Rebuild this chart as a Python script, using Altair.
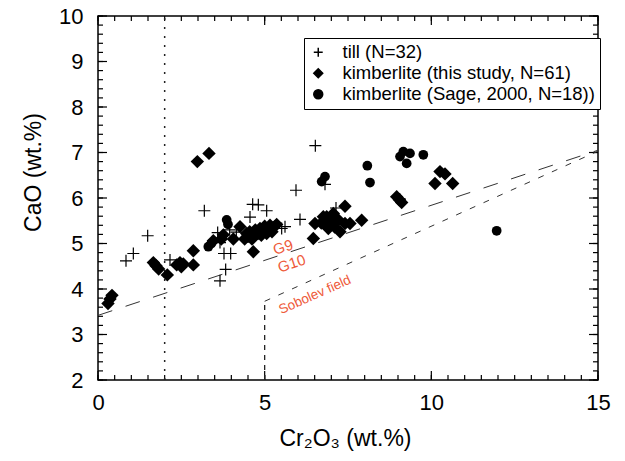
import altair as alt
import pandas as pd

FONT = "Liberation Sans"
LABEL_RED = "#ee5a3a"

series_names = ["till (N=32)", "kimberlite (this study, N=61)", "kimberlite (Sage, 2000, N=18))"]

# till (crosses)
till_x = [0.84, 1.06, 1.49, 2.16, 3.19, 3.59, 3.66, 3.78, 3.98, 3.83, 3.66, 4.56, 4.64, 4.81, 5.06, 5.61,
          5.51, 6.06, 5.94, 6.52, 7.14, 6.81, 4.85, 5.10, 4.50, 6.95, 7.20, 3.95, 4.15, 5.30, 6.75, 9.05]
till_y = [4.62, 4.78, 5.17, 4.64, 5.72, 5.24, 5.02, 4.78, 4.78, 4.43, 4.18, 5.58, 5.86, 5.85, 5.72, 5.37,
          5.33, 5.53, 6.17, 7.15, 5.78, 6.30, 5.25, 5.32, 5.15, 5.50, 5.45, 5.30, 5.25, 5.38, 5.50, 5.98]

# kimberlite, this study (diamonds)
kimb_x = [0.30, 0.36, 0.42, 1.66, 1.74, 1.82, 2.08, 2.36, 2.46, 2.56, 2.50, 2.86, 2.86, 2.98, 3.33,
          3.46, 3.76, 3.70, 4.06, 4.26, 4.66,
          4.40, 4.50, 4.55, 4.65, 4.72, 4.80, 4.86, 4.95, 5.00, 5.10, 5.16, 5.26, 5.36, 4.46, 4.62, 4.90,
          5.06, 5.22,
          6.46, 6.51, 6.76, 6.86, 6.91, 7.06, 7.21, 7.26, 7.41, 7.56, 7.41, 7.91, 6.70, 7.00, 7.10,
          8.96, 9.04, 9.11, 10.26, 10.41, 10.11, 10.64]
kimb_y = [3.68, 3.78, 3.86, 4.58, 4.51, 4.44, 4.31, 4.53, 4.58, 4.55, 4.49, 4.84, 4.53, 6.80, 6.98,
          5.06, 5.19, 5.10, 5.10, 5.37, 4.82,
          5.10, 5.16, 5.26, 5.20, 5.30, 5.22, 5.33, 5.27, 5.38, 5.30, 5.40, 5.35, 5.42, 5.22, 5.10, 5.18,
          5.22, 5.26,
          5.11, 5.44, 5.59, 5.59, 5.33, 5.66, 5.52, 5.26, 5.44, 5.44, 5.82, 5.51, 5.45, 5.45, 5.36,
          6.03, 5.96, 5.90, 6.58, 6.53, 6.32, 6.32]

# kimberlite, Sage 2000 (circles)
sage_x = [3.31, 3.40, 3.86, 3.90, 6.81, 6.71, 8.08, 8.16, 9.16, 9.06, 9.36, 9.26, 9.76, 11.96,
          4.70, 5.05, 7.05, 4.58]
sage_y = [4.93, 5.00, 5.52, 5.42, 6.47, 6.36, 6.71, 6.34, 7.02, 6.91, 6.98, 6.76, 6.95, 5.28,
          5.25, 5.30, 5.50, 5.18]

# reference lines
g9_x, g9_y = [0, 15], [3.42, 7.05]
sob_x, sob_y = [5, 15], [3.73, 7.03]
sobv_x, sobv_y = [5, 5], [2, 3.73]
dot_x, dot_y = [2, 2], [2, 10]

# field labels
g_text, g_x, g_y = ["G9", "G10"], [5.55, 5.81], [4.92, 4.56]
s_text, s_x, s_y = ["Sobolev field"], [6.51], [3.87]

# axis ticks (inward, on all four sides)
x_major = [0, 5, 10, 15]
x_minor = [i * 0.5 for i in range(31)]
y_major = [2, 3, 4, 5, 6, 7, 8, 9, 10]
y_minor = [round(2 + 0.2 * i, 1) for i in range(41)]
x_lo, x_hi = 0, 15
y_lo, y_hi = 2, 10
# tick lengths in data units (major, minor)
xt_len = (0.27, 0.15)
yt_len = (0.2, 0.11)

xs = alt.Scale(domain=[x_lo, x_hi], nice=False, zero=False)
ys = alt.Scale(domain=[y_lo, y_hi], nice=False, zero=False)

xaxis = alt.Axis(orient="bottom", values=x_major, ticks=False, grid=False, domain=False,
                 labelFontSize=22, labelFont=FONT, labelPadding=12, labelFlush=False,
                 title="Cr₂O₃ (wt.%)", titleFont=FONT, titleFontSize=23, titleFontWeight="normal",
                 titleX=247, titleY=58, titleBaseline="middle")
yaxis = alt.Axis(orient="left", values=y_major, ticks=False, grid=False, domain=False,
                 labelFontSize=22, labelFont=FONT, labelPadding=15, labelFlush=False,
                 title="CaO (wt.%)", titleFont=FONT, titleFontSize=23, titleFontWeight="normal",
                 titleX=-65, titleY=156, titleBaseline="middle")

X = alt.X("x:Q", scale=xs, axis=xaxis)
Y = alt.Y("y:Q", scale=ys, axis=yaxis)

# tick segments as two-point line pieces
tk_rows = []
tid = 0
for vals, L in ((x_minor, yt_len[1]), (x_major, yt_len[0])):
    for v in vals:
        for base, end in ((y_lo, y_lo + L), (y_hi, y_hi - L)):
            tk_rows.append({"id": tid, "o": 0, "x": v, "y": base})
            tk_rows.append({"id": tid, "o": 1, "x": v, "y": end})
            tid += 1
for vals, L in ((y_minor, xt_len[1]), (y_major, xt_len[0])):
    for v in vals:
        for base, end in ((x_lo, x_lo + L), (x_hi, x_hi - L)):
            tk_rows.append({"id": tid, "o": 0, "x": base, "y": v})
            tk_rows.append({"id": tid, "o": 1, "x": end, "y": v})
            tid += 1

ticks = alt.Chart(pd.DataFrame(tk_rows)).mark_line(color="black", strokeWidth=1.2).encode(
    x=X, y=Y, detail="id:N", order="o:Q")

g9 = alt.Chart(pd.DataFrame({"x": g9_x, "y": g9_y})).mark_line(
    color="#333333", strokeWidth=1, strokeDash=[15, 14]).encode(x=X, y=Y)
sob = alt.Chart(pd.DataFrame({"x": sob_x, "y": sob_y})).mark_line(
    color="#333333", strokeWidth=1, strokeDash=[6, 9]).encode(x=X, y=Y)
sobv = alt.Chart(pd.DataFrame({"x": sobv_x, "y": sobv_y})).mark_line(
    color="#222222", strokeWidth=1.3, strokeDash=[5, 5]).encode(x=X, y=Y)
dot = alt.Chart(pd.DataFrame({"x": dot_x, "y": dot_y})).mark_line(
    color="#222222", strokeWidth=1.5, strokeDash=[2, 7]).encode(x=X, y=Y)

plus_path = "M-1,0H1M0,-1V1"
leg = alt.Legend(title=None, orient="none", legendX=206, legendY=22, strokeColor="black",
                 fillColor="white", padding=5, labelFontSize=18.5, labelFont=FONT,
                 symbolSize=80, symbolFillColor="black", rowPadding=2, labelOffset=15, labelLimit=400)

diamonds = alt.Chart(pd.DataFrame({"x": kimb_x, "y": kimb_y})).mark_point(
    shape="diamond", filled=True, color="black", opacity=1, size=180).encode(x=X, y=Y)
circles = alt.Chart(pd.DataFrame({"x": sage_x, "y": sage_y})).mark_point(
    shape="circle", filled=True, color="black", opacity=1, size=95).encode(x=X, y=Y)
crosses = alt.Chart(pd.DataFrame({"x": till_x, "y": till_y, "s": series_names[0]})).mark_point(
    filled=True, color="black", fill="black", stroke="black", opacity=1, size=144, strokeWidth=1.2).encode(
    x=X, y=Y,
    shape=alt.Shape("s:N", scale=alt.Scale(domain=series_names, range=[plus_path, "diamond", "circle"]),
                    legend=leg))

gtxt = alt.Chart(pd.DataFrame({"x": g_x, "y": g_y, "t": g_text})).mark_text(
    color=LABEL_RED, fontSize=15, font=FONT, angle=342, align="center", baseline="middle").encode(
    x=X, y=Y, text="t:N")
stxt = alt.Chart(pd.DataFrame({"x": s_x, "y": s_y, "t": s_text})).mark_text(
    color=LABEL_RED, fontSize=13.5, font=FONT, angle=336, align="center", baseline="middle").encode(
    x=X, y=Y, text="t:N")

chart = alt.layer(ticks, g9, sob, sobv, dot, diamonds, circles, crosses, gtxt, stxt).properties(
    width=500, height=364,
    autosize=alt.AutoSizeParams(type="none"),
    padding={"left": 90, "top": 8, "right": 19, "bottom": 73},
).configure_view(stroke="black", strokeWidth=1.5)

chart.save("out.html", embed_options={"renderer": "svg", "actions": False})
